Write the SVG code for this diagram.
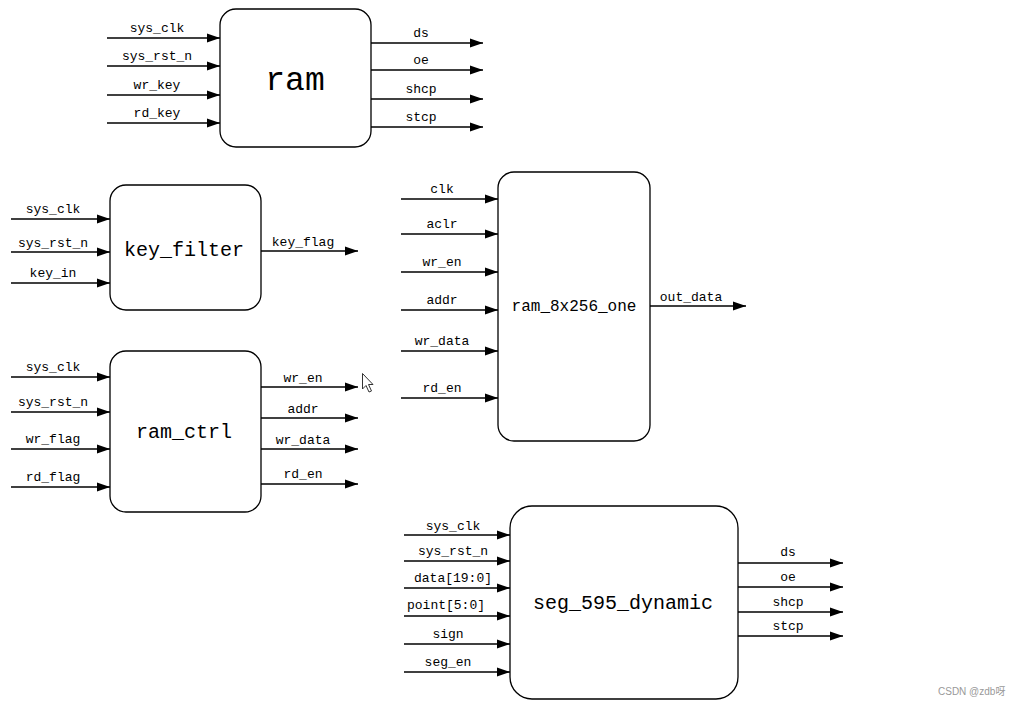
<svg xmlns="http://www.w3.org/2000/svg" width="1026" height="705" viewBox="0 0 1026 705">
<style>
.box{fill:#fff;stroke:#000;stroke-width:1.3}
.w{stroke:#000;stroke-width:1.5;fill:none;marker-end:url(#ah)}
.lb{font-family:"Liberation Mono",monospace;font-size:13px;fill:#000;text-anchor:middle}
.tt{font-family:"Liberation Mono",monospace;fill:#000;text-anchor:middle}
.wm{font-family:"Liberation Sans","Noto Sans CJK SC",sans-serif;font-size:10px;fill:#999}
</style>
<defs>
<marker id="ah" markerUnits="userSpaceOnUse" markerWidth="14" markerHeight="10" refX="13" refY="5" orient="auto">
<path d="M0,0.5 L13,5 L0,9.5 Z" fill="#000"/>
</marker>
</defs>
<rect width="1026" height="705" fill="#fff"/>

<g id="ram">
<rect class="box" x="220" y="9" width="151" height="138" rx="16"/>
<text class="tt" x="295" y="90" font-size="33">ram</text>
<text class="lb" x="157" y="32">sys_clk</text>
<text class="lb" x="157" y="60">sys_rst_n</text>
<text class="lb" x="157" y="89">wr_key</text>
<text class="lb" x="157" y="117">rd_key</text>
<text class="lb" x="421" y="37">ds</text>
<text class="lb" x="421" y="64">oe</text>
<text class="lb" x="421" y="93">shcp</text>
<text class="lb" x="421" y="121">stcp</text>
</g>

<g id="key_filter">
<rect class="box" x="110" y="185" width="151" height="125" rx="16"/>
<text class="tt" x="184" y="256" font-size="20">key_filter</text>
<text class="lb" x="53" y="213">sys_clk</text>
<text class="lb" x="53" y="247">sys_rst_n</text>
<text class="lb" x="53" y="277">key_in</text>
<text class="lb" x="303" y="246">key_flag</text>
</g>

<g id="ram_ctrl">
<rect class="box" x="110" y="351" width="151" height="161" rx="16"/>
<text class="tt" x="184" y="438" font-size="20">ram_ctrl</text>
<text class="lb" x="53" y="371">sys_clk</text>
<text class="lb" x="53" y="406">sys_rst_n</text>
<text class="lb" x="53" y="443">wr_flag</text>
<text class="lb" x="53" y="481">rd_flag</text>
<text class="lb" x="303" y="382">wr_en</text>
<text class="lb" x="303" y="413">addr</text>
<text class="lb" x="303" y="444">wr_data</text>
<text class="lb" x="303" y="478">rd_en</text>
</g>

<g id="ram_8x256_one">
<rect class="box" x="498" y="172" width="152" height="269" rx="16"/>
<text class="tt" x="574" y="311" font-size="16">ram_8x256_one</text>
<text class="lb" x="442" y="193">clk</text>
<text class="lb" x="442" y="228">aclr</text>
<text class="lb" x="442" y="266">wr_en</text>
<text class="lb" x="442" y="304">addr</text>
<text class="lb" x="442" y="345">wr_data</text>
<text class="lb" x="442" y="392">rd_en</text>
<text class="lb" x="691" y="301">out_data</text>
</g>

<g id="seg_595_dynamic">
<rect class="box" x="510" y="506" width="228" height="193" rx="22"/>
<text class="tt" x="623" y="609" font-size="20">seg_595_dynamic</text>
<text class="lb" x="453" y="530">sys_clk</text>
<text class="lb" x="453" y="555">sys_rst_n</text>
<text class="lb" x="453" y="582">data[19:0]</text>
<text class="lb" x="446" y="609">point[5:0]</text>
<text class="lb" x="448" y="638">sign</text>
<text class="lb" x="448" y="666">seg_en</text>
<text class="lb" x="788" y="556">ds</text>
<text class="lb" x="788" y="581">oe</text>
<text class="lb" x="788" y="606">shcp</text>
<text class="lb" x="788" y="630">stcp</text>
</g>

<g id="connectors">
<line class="w" x1="107" y1="38" x2="220" y2="38"/>
<line class="w" x1="107" y1="66" x2="220" y2="66"/>
<line class="w" x1="107" y1="95" x2="220" y2="95"/>
<line class="w" x1="107" y1="123" x2="220" y2="123"/>
<line class="w" x1="371" y1="43" x2="483" y2="43"/>
<line class="w" x1="371" y1="70" x2="483" y2="70"/>
<line class="w" x1="371" y1="99" x2="483" y2="99"/>
<line class="w" x1="371" y1="127" x2="483" y2="127"/>

<line class="w" x1="11" y1="219" x2="110" y2="219"/>
<line class="w" x1="11" y1="252" x2="110" y2="252"/>
<line class="w" x1="11" y1="283" x2="110" y2="283"/>
<line class="w" x1="261" y1="251" x2="358" y2="251"/>

<line class="w" x1="11" y1="377" x2="110" y2="377"/>
<line class="w" x1="11" y1="412" x2="110" y2="412"/>
<line class="w" x1="11" y1="449" x2="110" y2="449"/>
<line class="w" x1="11" y1="487" x2="110" y2="487"/>
<line class="w" x1="261" y1="387" x2="358" y2="387"/>
<line class="w" x1="261" y1="418" x2="358" y2="418"/>
<line class="w" x1="261" y1="449" x2="358" y2="449"/>
<line class="w" x1="261" y1="484" x2="358" y2="484"/>

<line class="w" x1="401" y1="199" x2="498" y2="199"/>
<line class="w" x1="401" y1="234" x2="498" y2="234"/>
<line class="w" x1="401" y1="272" x2="498" y2="272"/>
<line class="w" x1="401" y1="310" x2="498" y2="310"/>
<line class="w" x1="401" y1="351" x2="498" y2="351"/>
<line class="w" x1="401" y1="398" x2="498" y2="398"/>
<line class="w" x1="650" y1="306" x2="746" y2="306"/>

<line class="w" x1="404" y1="535" x2="510" y2="535"/>
<line class="w" x1="404" y1="561" x2="510" y2="561"/>
<line class="w" x1="404" y1="588" x2="510" y2="588"/>
<line class="w" x1="404" y1="616" x2="510" y2="616"/>
<line class="w" x1="404" y1="644" x2="510" y2="644"/>
<line class="w" x1="404" y1="672" x2="510" y2="672"/>
<line class="w" x1="738" y1="563" x2="843" y2="563"/>
<line class="w" x1="738" y1="587" x2="843" y2="587"/>
<line class="w" x1="738" y1="612" x2="843" y2="612"/>
<line class="w" x1="738" y1="636" x2="843" y2="636"/>
</g>

<path d="M362.5,373.5 L362.5,389 L366,385.5 L369,392 L371.5,391 L368.5,384.5 L373,384.5 Z" fill="#fff" stroke="#333" stroke-width="1"/>
<text class="wm" x="938" y="695">CSDN @zdb呀</text>
</svg>
